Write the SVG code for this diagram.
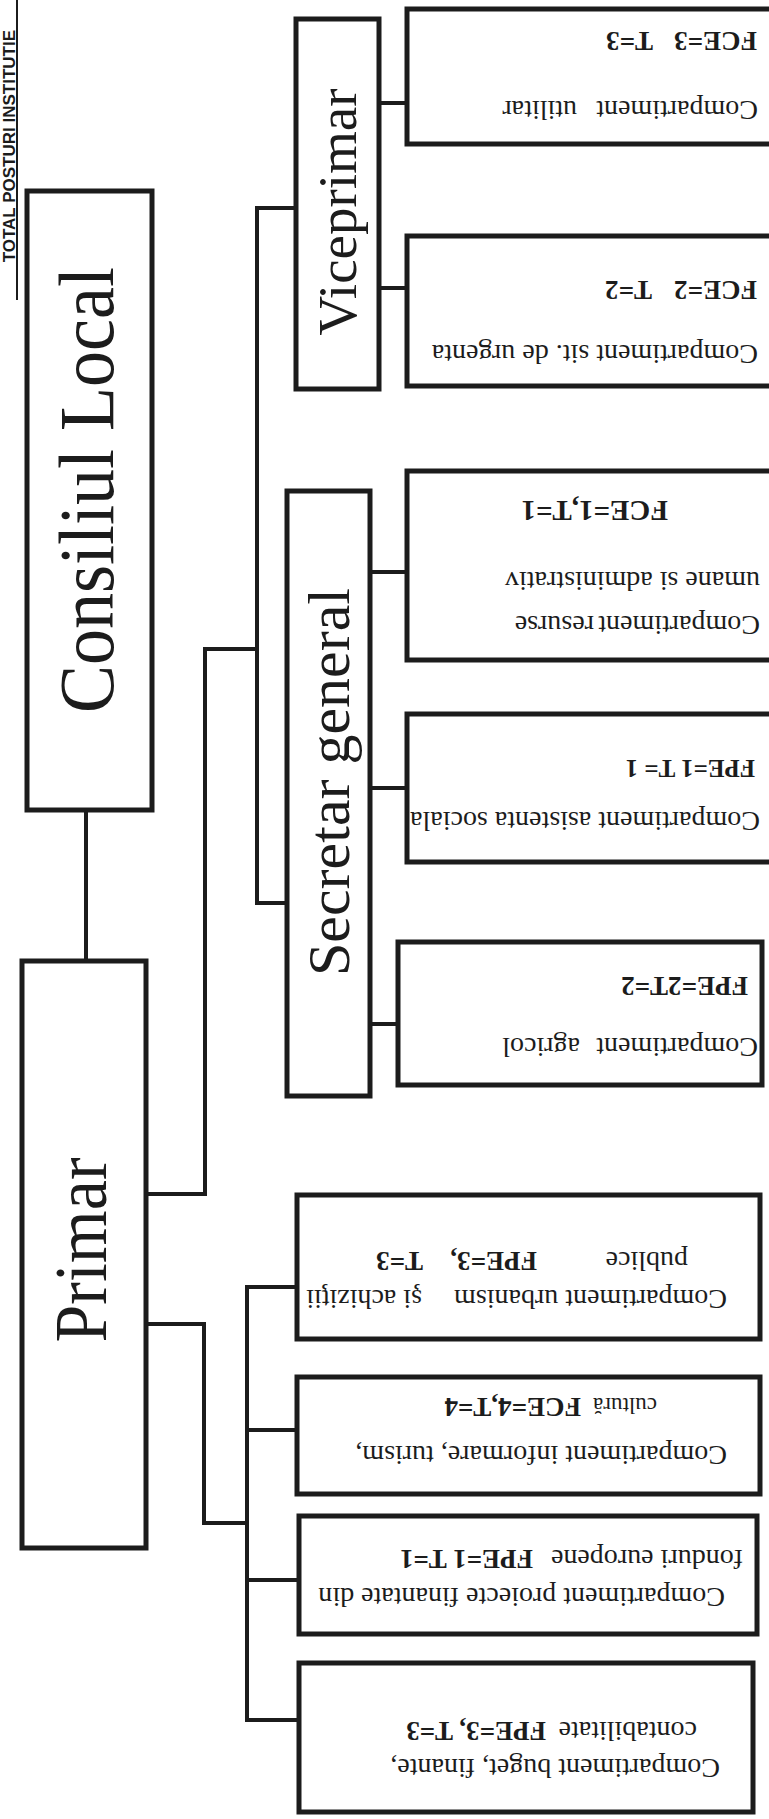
<svg xmlns="http://www.w3.org/2000/svg" width="769" height="1819" viewBox="0 0 769 1819">
<style>
.box{fill:#fff;stroke:#1c1c1c;stroke-width:5}
.con{fill:none;stroke:#1c1c1c;stroke-width:4}
.title{font-family:"Liberation Serif","Times New Roman",serif;fill:#1c1c1c;text-anchor:middle}
.t{font-family:"Liberation Serif","Times New Roman",serif;font-size:28px;fill:#1c1c1c}
.b{font-weight:bold;font-size:27px}
</style>
<rect width="769" height="1819" fill="#fff"/>
<g id="total">
<line x1="17" y1="0" x2="17" y2="300" stroke="#1c1c1c" stroke-width="2"/>
<text transform="translate(15 30) rotate(-90)" text-anchor="end" font-family="Liberation Sans, Arial, sans-serif" font-weight="bold" font-size="17" fill="#1c1c1c">TOTAL POSTURI INSTITUTIE</text>
</g>
<g id="connectors">
<path class="con" d="M86 810V961"/>
<path class="con" d="M146 1194H205V649H257"/>
<path class="con" d="M296 208H257V903H287"/>
<path class="con" d="M379 103H407M379 288H407"/>
<path class="con" d="M370 572H407M370 788H407M370 1024H398"/>
<path class="con" d="M146 1324H204V1523H247"/>
<path class="con" d="M297 1287H247V1720H299M247 1430H297M247 1580H299"/>
</g>
<g id="consiliul">
<rect class="box" x="27" y="191" width="125" height="619"/>
<text class="title" font-size="72" transform="translate(113 490) rotate(-90) scale(1 1.1)">Consiliul Local</text>
</g>
<g id="primar">
<rect class="box" x="22" y="961" width="124" height="587"/>
<text class="title" font-size="68" transform="translate(106 1250) rotate(-90) scale(1 1.1)">Primar</text>
</g>
<g id="viceprimar">
<rect class="box" x="296" y="19" width="83" height="370"/>
<text class="title" font-size="55" transform="translate(356 212) rotate(-90)">Viceprimar</text>
</g>
<g id="secretar">
<rect class="box" x="287" y="491" width="83" height="605"/>
<text class="title" font-size="60" transform="translate(349 782) rotate(-90)">Secretar general</text>
</g>
<g id="utilitar">
<rect class="box" x="407" y="9" width="380" height="135"/>
<g transform="rotate(180 384.5 909.5)">
<text class="t" x="11" y="1718">Compartiment <tspan x="192">utilitar</tspan></text>
<text class="t b" x="12" y="1787">FCE=3 <tspan x="116">T=3</tspan></text>
</g>
</g>
<g id="urgenta">
<rect class="box" x="407" y="236" width="380" height="150"/>
<g transform="rotate(180 384.5 909.5)">
<text class="t" x="11" y="1474">Compartiment sit. de urgenta</text>
<text class="t b" x="12" y="1538">FCE=2 <tspan x="117">T=2</tspan></text>
</g>
</g>
<g id="resurse">
<rect class="box" x="407" y="471" width="380" height="189"/>
<g transform="rotate(180 384.5 909.5)">
<text class="t" x="9" y="1203">Compartiment <tspan x="175">resurse</tspan></text>
<text class="t" x="9" y="1247">umane si administrativ</text>
<text class="t b" x="101" y="1318" style="font-size:29px">FCE=1,T=1</text>
</g>
</g>
<g id="asistenta">
<rect class="box" x="407" y="714" width="380" height="148"/>
<g transform="rotate(180 384.5 909.5)">
<text class="t" x="9" y="1007">Compartiment asistenta sociala</text>
<text class="t b" x="14" y="1059" style="font-size:25px">FPE=1 T= 1</text>
</g>
</g>
<g id="agricol">
<rect class="box" x="398" y="942" width="364" height="143"/>
<g transform="rotate(180 384.5 909.5)">
<text class="t" x="11" y="781">Compartiment <tspan x="189">agricol</tspan></text>
<text class="t b" x="21" y="842">FPE=2T=2</text>
</g>
</g>
<g id="urbanism">
<rect class="box" x="297" y="1195" width="463" height="144"/>
<g transform="rotate(180 384.5 909.5)">
<text class="t" x="42" y="529">Compartiment urbanism <tspan x="347">şi achiziţii</tspan></text>
<text class="t" x="81" y="567">publice <tspan class="b" x="232">FPE=3, </tspan><tspan class="b" x="346">T=3</tspan></text>
</g>
</g>
<g id="informare">
<rect class="box" x="297" y="1377" width="463" height="117"/>
<g transform="rotate(180 384.5 909.5)">
<text class="t" x="42" y="373">Compartiment informare, turism,</text>
<text class="t" x="112" y="421"><tspan style="font-size:23px">cultură </tspan><tspan class="b" x="188">FCE=4,T=4</tspan></text>
</g>
</g>
<g id="proiecte">
<rect class="box" x="299" y="1516" width="458" height="118"/>
<g transform="rotate(180 384.5 909.5)">
<text class="t" x="44" y="231">Compartiment proiecte finantate din</text>
<text class="t" x="26" y="269">fonduri europene <tspan class="b" x="236">FPE=1 T=1</tspan></text>
</g>
</g>
<g id="buget">
<rect class="box" x="299" y="1663" width="454" height="149"/>
<g transform="rotate(180 384.5 909.5)">
<text class="t" x="49" y="60">Compartiment buget, finante,</text>
<text class="t" x="72" y="97">contabilitate <tspan class="b" x="223">FPE=3, T=3</tspan></text>
</g>
</g>
</svg>
